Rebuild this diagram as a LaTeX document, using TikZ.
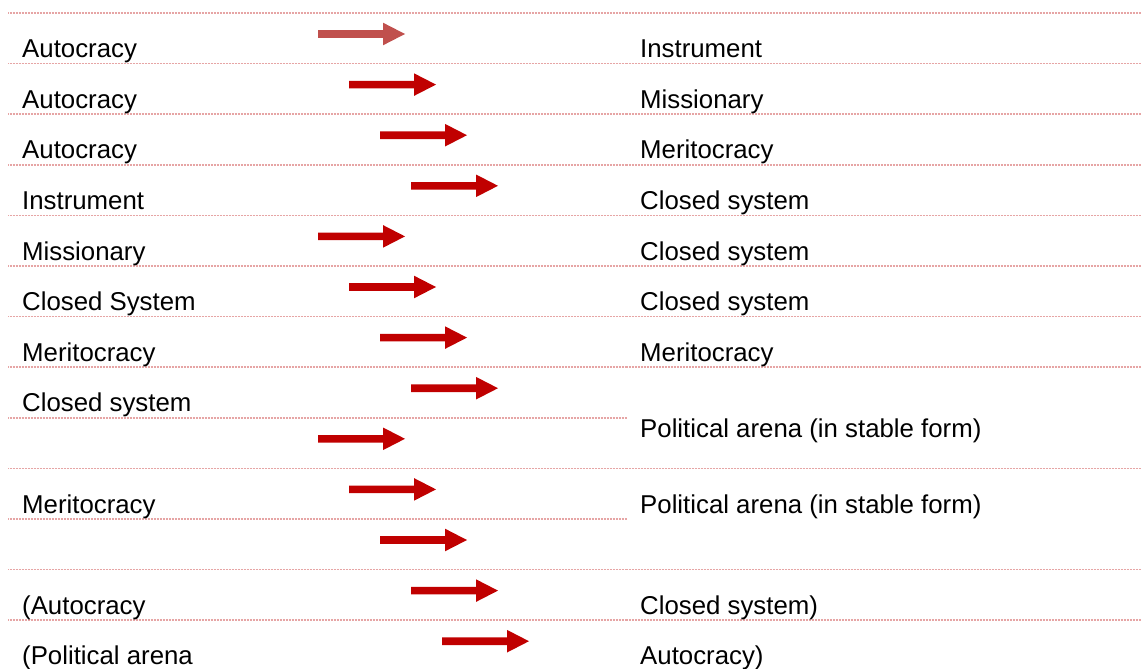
\documentclass[tikz,border=0pt]{standalone}
\usepackage{fontspec}
\setmainfont{Liberation Sans}
\definecolor{rulepink}{RGB}{230,165,165}
\definecolor{arrowred}{RGB}{192,0,0}
\definecolor{arrowsoft}{RGB}{192,80,77}
\begin{document}
\begin{tikzpicture}[x=1pt,y=-1pt,
  lbl/.style={anchor=base west, inner sep=0pt, font=\fontsize{25.8}{30}\selectfont},
  rule/.style={draw=rulepink, line width=1.5pt, dash pattern=on 1pt off 0.5pt},
  blockarrow/.pic={\fill[pic actions] (0,-3.8) -- (65,-3.8) -- (65,-11.3) -- (87,0) -- (65,11.3) -- (65,3.8) -- (0,3.8) -- cycle;}
]
\useasboundingbox (0,0) rectangle (1141,669);

% horizontal rules
\foreach \y in {13,63.6,114.2,164.8,215.4,266,316.6,367.2,468.4,569.6,620.2}
  {\draw[rule] (8,\y) -- (627,\y); \draw[rule] (627,\y) -- (1141,\y);}
\foreach \y in {417.8,519}
  {\draw[rule] (8,\y) -- (627,\y);}

% left column
\node[lbl] (l1) at (22,57.6) {Autocracy};
\node[lbl] (l2) at (22,108.2) {Autocracy};
\node[lbl] (l3) at (22,158.8) {Autocracy};
\node[lbl] (l4) at (22,209.4) {Instrument};
\node[lbl] (l5) at (22,260) {Missionary};
\node[lbl] (l6) at (22,310.6) {Closed System};
\node[lbl] (l7) at (22,361.2) {Meritocracy};
\node[lbl] (l8) at (22,411.8) {Closed system};
\node[lbl] (l10) at (22,513) {Meritocracy};
\node[lbl] (l12) at (22,614.2) {(Autocracy};
\node[lbl] (l13) at (22,664.8) {(Political arena};

% right column
\node[lbl] (r1) at (640,57.6) {Instrument};
\node[lbl] (r2) at (640,108.2) {Missionary};
\node[lbl] (r3) at (640,158.8) {Meritocracy};
\node[lbl] (r4) at (640,209.4) {Closed system};
\node[lbl] (r5) at (640,260) {Closed system};
\node[lbl] (r6) at (640,310.6) {Closed system};
\node[lbl] (r7) at (640,361.2) {Meritocracy};
\node[lbl] (r8) at (640,437.5) {Political arena (in stable form)};
\node[lbl] (r10) at (640,513) {Political arena (in stable form)};
\node[lbl] (r12) at (640,614.2) {Closed system)};
\node[lbl] (r13) at (640,664.8) {Autocracy)};

% block arrows
\pic[fill=arrowsoft] at (318,34) {blockarrow};
\pic[fill=arrowred] at (349,84.6) {blockarrow};
\pic[fill=arrowred] at (380,135.2) {blockarrow};
\pic[fill=arrowred] at (411,185.8) {blockarrow};
\pic[fill=arrowred] at (318,236.4) {blockarrow};
\pic[fill=arrowred] at (349,287) {blockarrow};
\pic[fill=arrowred] at (380,337.6) {blockarrow};
\pic[fill=arrowred] at (411,388.2) {blockarrow};
\pic[fill=arrowred] at (318,438.8) {blockarrow};
\pic[fill=arrowred] at (349,489.4) {blockarrow};
\pic[fill=arrowred] at (380,540) {blockarrow};
\pic[fill=arrowred] at (411,590.6) {blockarrow};
\pic[fill=arrowred] at (442,641.2) {blockarrow};
\end{tikzpicture}
\end{document}
